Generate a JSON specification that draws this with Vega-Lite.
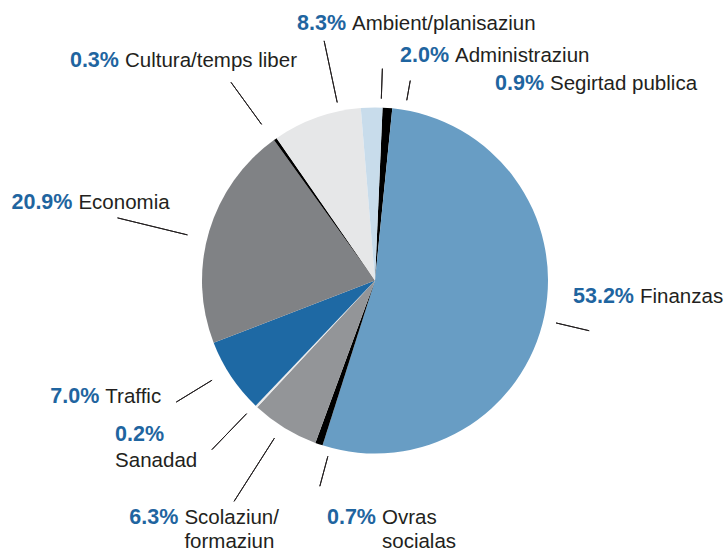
{
  "$schema": "https://vega.github.io/schema/vega-lite/v6.json",
  "autosize": "none",
  "padding": {"left": 26, "top": 10, "right": 0, "bottom": 0},
  "width": 698,
  "height": 541,
  "background": "white",
  "config": {"view": {"stroke": null}},
  "data": {
    "values": [
      {"i": 1, "name": "Segirtad publica", "share": 0.009},
      {"i": 2, "name": "Finanzas", "share": 0.532},
      {"i": 3, "name": "Ovras\nsocialas", "share": 0.007},
      {"i": 4, "name": "Scolaziun/\nformaziun", "share": 0.063},
      {"i": 5, "name": "Sanadad", "share": 0.002},
      {"i": 6, "name": "Traffic", "share": 0.070},
      {"i": 7, "name": "Economia", "share": 0.209},
      {"i": 8, "name": "Cultura/temps liber", "share": 0.003},
      {"i": 9, "name": "Ambient/planisaziun", "share": 0.083},
      {"i": 10, "name": "Administraziun", "share": 0.020}
    ]
  },
  "transform": [
    {"stack": "share", "groupby": [], "sort": [{"field": "i", "order": "ascending"}], "as": ["s0", "s1"]}
  ],
  "encoding": {
    "theta": {"field": "share", "type": "quantitative", "stack": true, "scale": {"range": [0.0436, 6.3268]}},
    "order": {"field": "i", "type": "quantitative"}
  },
  "layer": [
    {
      "mark": {"type": "arc", "radius": 173},
      "encoding": {
        "color": {
          "field": "name", "type": "nominal", "legend": null,
          "scale": {
            "domain": ["Segirtad publica", "Finanzas", "Ovras\nsocialas", "Scolaziun/\nformaziun", "Sanadad", "Traffic", "Economia", "Cultura/temps liber", "Ambient/planisaziun", "Administraziun"],
            "range": ["#000000", "#689dc4", "#000000", "#939598", "#ebebeb", "#1e69a4", "#808285", "#000000", "#e6e7e8", "#c8dceb"]
          }
        }
      }
    },
    {"mark": {"type": "arc", "radius": 203, "radius2": 183, "padAngle": 3.14159, "thetaOffset": 0.3026, "theta2Offset": -0.0974, "fillOpacity": 0, "stroke": "#231f20", "strokeWidth": 1},
     "encoding": {"theta": {"field": "s0", "type": "quantitative", "stack": null}, "theta2": {"field": "s1"}, "strokeOpacity": {"condition": {"test": "datum.i === 1", "value": 1}, "value": 0}}},
    {"mark": {"type": "arc", "radius": 220, "radius2": 186, "padAngle": 3.14159, "thetaOffset": 0.2262, "theta2Offset": -0.1738, "fillOpacity": 0, "stroke": "#231f20", "strokeWidth": 1},
     "encoding": {"theta": {"field": "s0", "type": "quantitative", "stack": null}, "theta2": {"field": "s1"}, "strokeOpacity": {"condition": {"test": "datum.i === 2", "value": 1}, "value": 0}}},
    {"mark": {"type": "arc", "radius": 213, "radius2": 182, "padAngle": 3.14159, "thetaOffset": 0.1319, "theta2Offset": -0.2681, "fillOpacity": 0, "stroke": "#231f20", "strokeWidth": 1},
     "encoding": {"theta": {"field": "s0", "type": "quantitative", "stack": null}, "theta2": {"field": "s1"}, "strokeOpacity": {"condition": {"test": "datum.i === 3", "value": 1}, "value": 0}}},
    {"mark": {"type": "arc", "radius": 262, "radius2": 187, "padAngle": 3.14159, "thetaOffset": 0.2175, "theta2Offset": -0.1825, "fillOpacity": 0, "stroke": "#231f20", "strokeWidth": 1},
     "encoding": {"theta": {"field": "s0", "type": "quantitative", "stack": null}, "theta2": {"field": "s1"}, "strokeOpacity": {"condition": {"test": "datum.i === 4", "value": 1}, "value": 0}}},
    {"mark": {"type": "arc", "radius": 235, "radius2": 185, "padAngle": 3.14159, "thetaOffset": 0.2122, "theta2Offset": -0.1878, "fillOpacity": 0, "stroke": "#231f20", "strokeWidth": 1},
     "encoding": {"theta": {"field": "s0", "type": "quantitative", "stack": null}, "theta2": {"field": "s1"}, "strokeOpacity": {"condition": {"test": "datum.i === 5", "value": 1}, "value": 0}}},
    {"mark": {"type": "arc", "radius": 233, "radius2": 191, "padAngle": 3.14159, "thetaOffset": 0.2401, "theta2Offset": -0.1599, "fillOpacity": 0, "stroke": "#231f20", "strokeWidth": 1},
     "encoding": {"theta": {"field": "s0", "type": "quantitative", "stack": null}, "theta2": {"field": "s1"}, "strokeOpacity": {"condition": {"test": "datum.i === 6", "value": 1}, "value": 0}}},
    {"mark": {"type": "arc", "radius": 265, "radius2": 193, "padAngle": 3.14159, "thetaOffset": 0.1494, "theta2Offset": -0.2506, "fillOpacity": 0, "stroke": "#231f20", "strokeWidth": 1},
     "encoding": {"theta": {"field": "s0", "type": "quantitative", "stack": null}, "theta2": {"field": "s1"}, "strokeOpacity": {"condition": {"test": "datum.i === 7", "value": 1}, "value": 0}}},
    {"mark": {"type": "arc", "radius": 245, "radius2": 193, "padAngle": 3.14159, "thetaOffset": 0.186, "theta2Offset": -0.214, "fillOpacity": 0, "stroke": "#231f20", "strokeWidth": 1},
     "encoding": {"theta": {"field": "s0", "type": "quantitative", "stack": null}, "theta2": {"field": "s1"}, "strokeOpacity": {"condition": {"test": "datum.i === 8", "value": 1}, "value": 0}}},
    {"mark": {"type": "arc", "radius": 245, "radius2": 182, "padAngle": 3.14159, "thetaOffset": 0.3344, "theta2Offset": -0.0656, "fillOpacity": 0, "stroke": "#231f20", "strokeWidth": 1},
     "encoding": {"theta": {"field": "s0", "type": "quantitative", "stack": null}, "theta2": {"field": "s1"}, "strokeOpacity": {"condition": {"test": "datum.i === 9", "value": 1}, "value": 0}}},
    {"mark": {"type": "arc", "radius": 212, "radius2": 182, "padAngle": 3.14159, "thetaOffset": 0.2541, "theta2Offset": -0.1459, "fillOpacity": 0, "stroke": "#231f20", "strokeWidth": 1},
     "encoding": {"theta": {"field": "s0", "type": "quantitative", "stack": null}, "theta2": {"field": "s1"}, "strokeOpacity": {"condition": {"test": "datum.i === 10", "value": 1}, "value": 0}}},

    {"mark": {"type": "text", "radius": 202, "dx": 154.5, "dy": 11, "align": "right", "baseline": "alphabetic", "font": "Liberation Sans", "fontSize": 21.5, "fontWeight": "bold", "fill": "#1f65a0"},
     "encoding": {"text": {"condition": {"test": "datum.i === 1", "field": "share", "type": "quantitative", "format": ".1%"}, "value": ""}}},
    {"mark": {"type": "text", "radius": 261, "dx": 3.4, "dy": -30.1, "align": "right", "baseline": "alphabetic", "font": "Liberation Sans", "fontSize": 21.5, "fontWeight": "bold", "fill": "#1f65a0"},
     "encoding": {"text": {"condition": {"test": "datum.i === 2", "field": "share", "type": "quantitative", "format": ".1%"}, "value": ""}}},
    {"mark": {"type": "text", "radius": 229, "dx": 75.2, "dy": 26.8, "align": "right", "baseline": "alphabetic", "font": "Liberation Sans", "fontSize": 21.5, "fontWeight": "bold", "fill": "#1f65a0"},
     "encoding": {"text": {"condition": {"test": "datum.i === 3", "field": "share", "type": "quantitative", "format": ".1%"}, "value": ""}}},
    {"mark": {"type": "text", "radius": 309, "dx": -35, "dy": -20, "align": "right", "baseline": "alphabetic", "font": "Liberation Sans", "fontSize": 21.5, "fontWeight": "bold", "fill": "#1f65a0"},
     "encoding": {"text": {"condition": {"test": "datum.i === 4", "field": "share", "type": "quantitative", "format": ".1%"}, "value": ""}}},
    {"mark": {"type": "text", "radius": 294, "dx": -58.4, "dy": -53.5, "align": "left", "baseline": "alphabetic", "font": "Liberation Sans", "fontSize": 21.5, "fontWeight": "bold", "fill": "#1f65a0"},
     "encoding": {"text": {"condition": {"test": "datum.i === 5", "field": "share", "type": "quantitative", "format": ".1%"}, "value": ""}}},
    {"mark": {"type": "text", "radius": 295, "dx": -30.4, "dy": -41.3, "align": "right", "baseline": "alphabetic", "font": "Liberation Sans", "fontSize": 21.5, "fontWeight": "bold", "fill": "#1f65a0"},
     "encoding": {"text": {"condition": {"test": "datum.i === 6", "field": "share", "type": "quantitative", "format": ".1%"}, "value": ""}}},
    {"mark": {"type": "text", "radius": 307, "dx": -8.3, "dy": 16.5, "align": "right", "baseline": "alphabetic", "font": "Liberation Sans", "fontSize": 21.5, "fontWeight": "bold", "fill": "#1f65a0"},
     "encoding": {"text": {"condition": {"test": "datum.i === 7", "field": "share", "type": "quantitative", "format": ".1%"}, "value": ""}}},
    {"mark": {"type": "text", "radius": 320, "dx": -71.6, "dy": 48.3, "align": "right", "baseline": "alphabetic", "font": "Liberation Sans", "fontSize": 21.5, "fontWeight": "bold", "fill": "#1f65a0"},
     "encoding": {"text": {"condition": {"test": "datum.i === 8", "field": "share", "type": "quantitative", "format": ".1%"}, "value": ""}}},
    {"mark": {"type": "text", "radius": 245, "dx": 53.6, "dy": -19.8, "align": "right", "baseline": "alphabetic", "font": "Liberation Sans", "fontSize": 21.5, "fontWeight": "bold", "fill": "#1f65a0"},
     "encoding": {"text": {"condition": {"test": "datum.i === 9", "field": "share", "type": "quantitative", "format": ".1%"}, "value": ""}}},
    {"mark": {"type": "text", "radius": 217, "dx": 78.2, "dy": -1.2, "align": "right", "baseline": "alphabetic", "font": "Liberation Sans", "fontSize": 21.5, "fontWeight": "bold", "fill": "#1f65a0"},
     "encoding": {"text": {"condition": {"test": "datum.i === 10", "field": "share", "type": "quantitative", "format": ".1%"}, "value": ""}}},

    {"mark": {"type": "text", "radius": 202, "dx": 160.5, "dy": 11, "align": "left", "baseline": "alphabetic", "font": "Liberation Sans", "fontSize": 20.5, "fill": "#231f20", "lineBreak": "\n", "lineHeight": 24.5},
     "encoding": {"text": {"condition": {"test": "datum.i === 1", "field": "name", "type": "nominal"}, "value": ""}}},
    {"mark": {"type": "text", "radius": 261, "dx": 9.4, "dy": -30.1, "align": "left", "baseline": "alphabetic", "font": "Liberation Sans", "fontSize": 20.5, "fill": "#231f20", "lineBreak": "\n", "lineHeight": 24.5},
     "encoding": {"text": {"condition": {"test": "datum.i === 2", "field": "name", "type": "nominal"}, "value": ""}}},
    {"mark": {"type": "text", "radius": 229, "dx": 81.2, "dy": 26.8, "align": "left", "baseline": "alphabetic", "font": "Liberation Sans", "fontSize": 20.5, "fill": "#231f20", "lineBreak": "\n", "lineHeight": 24.5},
     "encoding": {"text": {"condition": {"test": "datum.i === 3", "field": "name", "type": "nominal"}, "value": ""}}},
    {"mark": {"type": "text", "radius": 309, "dx": -29, "dy": -20, "align": "left", "baseline": "alphabetic", "font": "Liberation Sans", "fontSize": 20.5, "fill": "#231f20", "lineBreak": "\n", "lineHeight": 24.5},
     "encoding": {"text": {"condition": {"test": "datum.i === 4", "field": "name", "type": "nominal"}, "value": ""}}},
    {"mark": {"type": "text", "radius": 294, "dx": -58.4, "dy": -27.5, "align": "left", "baseline": "alphabetic", "font": "Liberation Sans", "fontSize": 20.5, "fill": "#231f20", "lineBreak": "\n", "lineHeight": 24.5},
     "encoding": {"text": {"condition": {"test": "datum.i === 5", "field": "name", "type": "nominal"}, "value": ""}}},
    {"mark": {"type": "text", "radius": 295, "dx": -24.4, "dy": -41.3, "align": "left", "baseline": "alphabetic", "font": "Liberation Sans", "fontSize": 20.5, "fill": "#231f20", "lineBreak": "\n", "lineHeight": 24.5},
     "encoding": {"text": {"condition": {"test": "datum.i === 6", "field": "name", "type": "nominal"}, "value": ""}}},
    {"mark": {"type": "text", "radius": 307, "dx": -2.3, "dy": 16.5, "align": "left", "baseline": "alphabetic", "font": "Liberation Sans", "fontSize": 20.5, "fill": "#231f20", "lineBreak": "\n", "lineHeight": 24.5},
     "encoding": {"text": {"condition": {"test": "datum.i === 7", "field": "name", "type": "nominal"}, "value": ""}}},
    {"mark": {"type": "text", "radius": 320, "dx": -65.6, "dy": 48.3, "align": "left", "baseline": "alphabetic", "font": "Liberation Sans", "fontSize": 20.5, "fill": "#231f20", "lineBreak": "\n", "lineHeight": 24.5},
     "encoding": {"text": {"condition": {"test": "datum.i === 8", "field": "name", "type": "nominal"}, "value": ""}}},
    {"mark": {"type": "text", "radius": 245, "dx": 59.6, "dy": -19.8, "align": "left", "baseline": "alphabetic", "font": "Liberation Sans", "fontSize": 20.5, "fill": "#231f20", "lineBreak": "\n", "lineHeight": 24.5},
     "encoding": {"text": {"condition": {"test": "datum.i === 9", "field": "name", "type": "nominal"}, "value": ""}}},
    {"mark": {"type": "text", "radius": 217, "dx": 84.2, "dy": -1.2, "align": "left", "baseline": "alphabetic", "font": "Liberation Sans", "fontSize": 20.5, "fill": "#231f20", "lineBreak": "\n", "lineHeight": 24.5},
     "encoding": {"text": {"condition": {"test": "datum.i === 10", "field": "name", "type": "nominal"}, "value": ""}}}
  ]
}
